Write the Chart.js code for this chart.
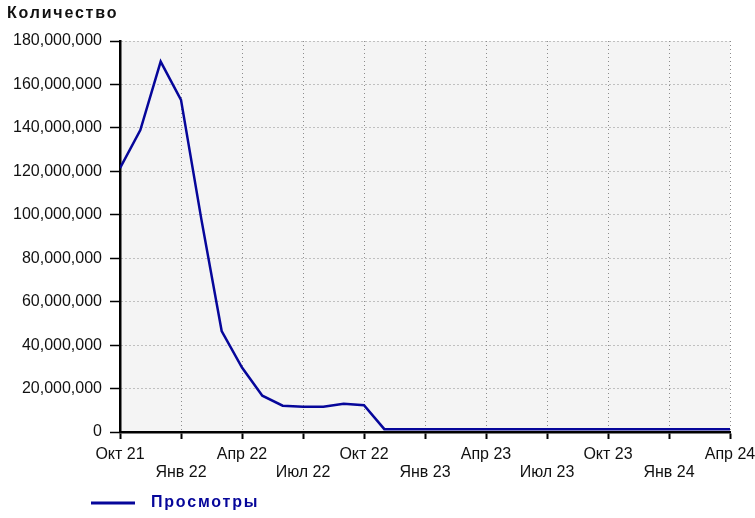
<!DOCTYPE html>
<html>
<head>
<meta charset="utf-8">
<script src="https://cdn.jsdelivr.net/npm/chart.js@4"></script>
<style>
  html, body { margin: 0; padding: 0; background: #fff; }
  #wrap { width: 755px; height: 518px; position: relative; }
</style>
</head>
<body>
<div id="wrap"><canvas id="chart" width="755" height="518"></canvas></div>
<script>
// monthly data, Oct 21 .. Apr 24
const months = ['Окт 21','Ноя 21','Дек 21','Янв 22','Фев 22','Мар 22','Апр 22','Май 22','Июн 22','Июл 22',
    'Авг 22','Сен 22','Окт 22','Ноя 22','Дек 22','Янв 23','Фев 23','Мар 23','Апр 23','Май 23','Июн 23',
    'Июл 23','Авг 23','Сен 23','Окт 23','Ноя 23','Дек 23','Янв 24','Фев 24','Мар 24','Апр 24'];
const views = [121500000, 139000000, 170500000, 152900000, 98000000, 46500000, 29700000, 16700000,
    12100000, 11600000, 11600000, 13000000, 12300000, 1300000, 1300000, 1300000, 1300000, 1300000,
    1300000, 1300000, 1300000, 1300000, 1300000, 1300000, 1300000, 1300000, 1300000, 1300000,
    1300000, 1300000, 1300000];
const quarterLabels = ['Окт 21','Янв 22','Апр 22','Июл 22','Окт 22','Янв 23','Апр 23','Июл 23','Окт 23','Янв 24','Апр 24'];
const seriesName = 'Просмотры';
const yTitle = 'Количество';

const lineColor = '#06069a';

const extras = {
    id: 'extras',
    beforeDraw(chart) {
        const {ctx, chartArea: a} = chart;
        ctx.save();
        ctx.fillStyle = '#f4f4f4';
        ctx.fillRect(a.left, a.top, a.right - a.left, a.bottom - a.top);
        ctx.restore();
    },
    afterDraw(chart) {
        const ctx = chart.ctx;
        ctx.save();
        ctx.letterSpacing = '1.8px';
        ctx.fillStyle = '#111';
        ctx.font = 'bold 16px "Liberation Sans", Arial, sans-serif';
        ctx.textBaseline = 'middle';
        ctx.fillText(yTitle, 7, 14);
        // legend
        ctx.strokeStyle = lineColor;
        ctx.lineWidth = 3;
        ctx.beginPath();
        ctx.moveTo(91, 503);
        ctx.lineTo(135, 503);
        ctx.stroke();
        ctx.fillStyle = lineColor;
        ctx.fillText(seriesName, 151, 503);
        ctx.restore();
    }
};

new Chart(document.getElementById('chart'), {
    type: 'line',
    data: {
        datasets: [{
            label: seriesName,
            data: views.map((v, i) => ({x: i, y: v})),
            borderColor: lineColor,
            borderWidth: 2.5,
            pointRadius: 0,
            tension: 0,
            fill: false
        }]
    },
    options: {
        responsive: false,
        animation: false,
        layout: { padding: { left: 0, right: 25, top: 41, bottom: 0 } },
        plugins: {
            legend: { display: false },
            tooltip: { enabled: false }
        },
        scales: {
            x: {
                type: 'linear',
                min: 0,
                max: months.length - 1,
                afterBuildTicks(scale) {
                    scale.ticks = quarterLabels.map((l, i) => ({value: i * 3}));
                },
                afterFit(scale) {
                    scale.height = 86;
                    scale.paddingLeft = 0;
                    scale.paddingRight = 0;
                },
                ticks: {
                    autoSkip: false,
                    maxRotation: 0,
                    padding: 7,
                    color: '#111',
                    font: { family: '"Liberation Sans", Arial, sans-serif', size: 16, lineHeight: 1.1 },
                    callback(v, i) {
                        const l = quarterLabels[i];
                        return i % 2 === 0 ? l : ['', l];
                    }
                },
                grid: { color: '#8c8c8c', tickColor: '#000', tickLength: 7, tickWidth: 2 },
                border: { color: '#000', width: 2.5, dash: [1, 3] }
            },
            y: {
                min: 0,
                max: 180000000,
                afterFit(scale) { scale.width = 120; },
                ticks: {
                    stepSize: 20000000,
                    padding: 8,
                    color: '#111',
                    font: { family: '"Liberation Sans", Arial, sans-serif', size: 16 },
                    callback: v => v.toLocaleString('en-US')
                },
                grid: { color: '#8c8c8c', tickColor: '#000', tickLength: 10, tickWidth: 1.5 },
                border: { color: '#000', width: 2.5, dash: [1, 3] }
            }
        }
    },
    plugins: [extras]
});
</script>
</body>
</html>
